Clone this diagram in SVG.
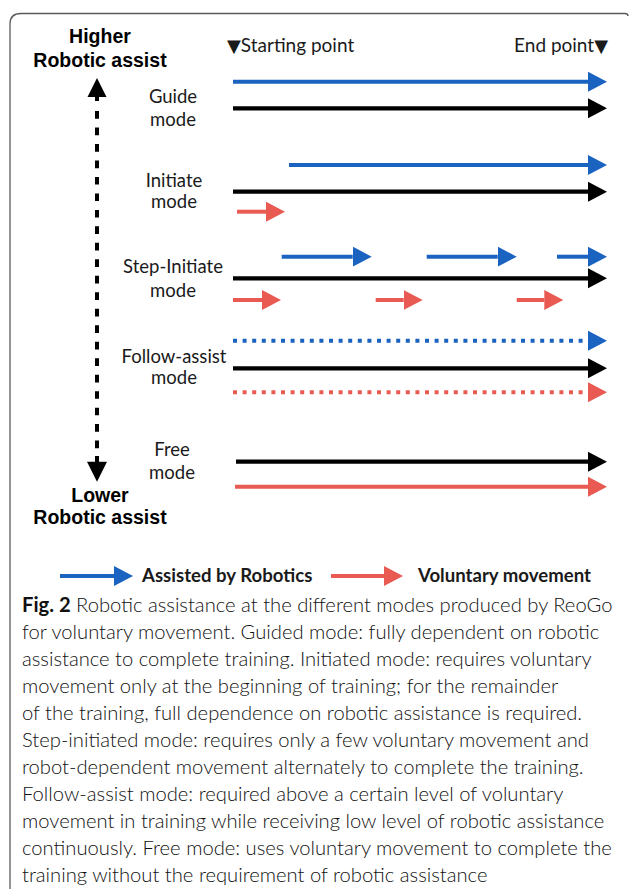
<svg xmlns="http://www.w3.org/2000/svg" width="629" height="891" viewBox="0 0 629 891">
  <style>
    .axis { font-family: "Liberation Sans", Arial, sans-serif; font-weight: bold; font-size: 19.5px; fill: #000; text-anchor: middle; }
    .mode { font-family: Lato, "Open Sans", sans-serif; font-size: 18.5px; fill: #1a1a1a; text-anchor: middle; }
    .head { font-family: Lato, "Open Sans", sans-serif; font-size: 19px; fill: #1a1a1a; }
    .tri { font-family: "DejaVu Sans", sans-serif; font-size: 18px; }
    .legend { font-family: Lato, "Open Sans", sans-serif; font-size: 18.6px; font-weight: bold; fill: #1a1a1a; }
    .cap { font-family: Lato, "Open Sans", sans-serif; font-weight: 300; font-size: 20.2px; fill: #111; }
    .cap .b { font-weight: bold; }
    .blue { stroke: #1b63c1; stroke-width: 4; fill: none; }
    .black { stroke: #000; stroke-width: 4.2; fill: none; }
    .red { stroke: #e95a52; stroke-width: 4; fill: none; }
    .dot { stroke-dasharray: 4 5.6; }
  </style>
  <defs>
    <marker id="hBlue" markerUnits="userSpaceOnUse" viewBox="0 -11 20 22" markerWidth="20" markerHeight="22" refX="0" refY="0" orient="auto">
      <path d="M0,-10 L19,0 L0,10 z" fill="#1b63c1"/>
    </marker>
    <marker id="hBlack" markerUnits="userSpaceOnUse" viewBox="0 -11 20 22" markerWidth="20" markerHeight="22" refX="0" refY="0" orient="auto">
      <path d="M0,-10 L19,0 L0,10 z" fill="#000"/>
    </marker>
    <marker id="hRed" markerUnits="userSpaceOnUse" viewBox="0 -11 20 22" markerWidth="20" markerHeight="22" refX="0" refY="0" orient="auto">
      <path d="M0,-10 L19,0 L0,10 z" fill="#e95a52"/>
    </marker>
  </defs>

  <rect width="629" height="891" fill="#fff"/>

  <!-- open frame: top and left edges -->
  <path d="M10,889 L10,24 Q10,13.5 21,13.5 L625,13.5 Q628,13.5 628,16" fill="none" stroke="#5a5a5a" stroke-width="1.3"/>

  <!-- assist scale labels -->
  <g id="scale-high">
    <text class="axis" x="100" y="42.5">Higher</text>
    <text class="axis" x="100" y="66.5">Robotic assist</text>
  </g>
  <g id="scale-low">
    <text class="axis" x="100" y="501.5">Lower</text>
    <text class="axis" x="100" y="523.5">Robotic assist</text>
  </g>

  <!-- start / end markers -->
  <g id="start-point">
    <text class="head" x="227" y="51.7"><tspan class="tri">▼</tspan>Starting point</text>
  </g>
  <g id="end-point">
    <text class="head" x="608" y="51.7" text-anchor="end">End point<tspan class="tri">▼</tspan></text>
  </g>

  <!-- mode labels -->
  <g id="guide-mode">
    <text class="mode" x="173" y="103.3">Guide</text>
    <text class="mode" x="173" y="126">mode</text>
  </g>
  <g id="initiate-mode">
    <text class="mode" x="174" y="186.7">Initiate</text>
    <text class="mode" x="174" y="208.3">mode</text>
  </g>
  <g id="step-initiate-mode">
    <text class="mode" x="173" y="273.3">Step-Initiate</text>
    <text class="mode" x="173" y="296.5">mode</text>
  </g>
  <g id="follow-assist-mode">
    <text class="mode" x="174" y="362.7">Follow-assist</text>
    <text class="mode" x="174" y="384.3">mode</text>
  </g>
  <g id="free-mode">
    <text class="mode" x="172" y="456">Free</text>
    <text class="mode" x="172" y="479">mode</text>
  </g>

  <g id="connectors">
    <!-- vertical assist scale -->
    <line x1="97" y1="111" x2="97" y2="449" stroke="#000" stroke-width="4" stroke-dasharray="7.7 8.78"/>
    <rect x="95" y="95" width="4" height="6" fill="#000"/>
    <polygon points="97,78 106.5,97 87.5,97" fill="#000"/>
    <rect x="95" y="456" width="4" height="6" fill="#000"/>
    <polygon points="87,461.7 107,461.7 97,481.7" fill="#000"/>

    <!-- guide -->
    <line class="blue" x1="233" y1="81.7" x2="588" y2="81.7" marker-end="url(#hBlue)"/>
    <line class="black" x1="233" y1="108.3" x2="588" y2="108.3" marker-end="url(#hBlack)"/>

    <!-- initiate -->
    <line class="blue" x1="289" y1="165" x2="588" y2="165" marker-end="url(#hBlue)"/>
    <line class="black" x1="233" y1="191.7" x2="588" y2="191.7" marker-end="url(#hBlack)"/>
    <line class="red" x1="237" y1="211.7" x2="266" y2="211.7" marker-end="url(#hRed)"/>

    <!-- step-initiate -->
    <line class="blue" x1="281.7" y1="256.7" x2="352.7" y2="256.7" marker-end="url(#hBlue)"/>
    <line class="blue" x1="426.7" y1="256.7" x2="497.7" y2="256.7" marker-end="url(#hBlue)"/>
    <line class="blue" x1="557" y1="256.7" x2="588" y2="256.7" marker-end="url(#hBlue)"/>
    <line class="black" x1="233" y1="278.3" x2="588" y2="278.3" marker-end="url(#hBlack)"/>
    <line class="red" x1="233" y1="300" x2="262" y2="300" marker-end="url(#hRed)"/>
    <line class="red" x1="375.7" y1="300" x2="403.7" y2="300" marker-end="url(#hRed)"/>
    <line class="red" x1="516.7" y1="300" x2="544.3" y2="300" marker-end="url(#hRed)"/>

    <!-- follow-assist -->
    <line class="blue dot" x1="233" y1="340.7" x2="588" y2="340.7" marker-end="url(#hBlue)"/>
    <line class="black" x1="233" y1="368.3" x2="588" y2="368.3" marker-end="url(#hBlack)"/>
    <line class="red dot" x1="233" y1="392.3" x2="588" y2="392.3" marker-end="url(#hRed)"/>

    <!-- free -->
    <line class="black" x1="236" y1="461.7" x2="588" y2="461.7" marker-end="url(#hBlack)"/>
    <line class="red" x1="235" y1="486.7" x2="588" y2="486.7" marker-end="url(#hRed)"/>

    <!-- legend arrows -->
    <line class="blue" x1="60" y1="576" x2="114" y2="576" marker-end="url(#hBlue)"/>
    <line class="red" x1="331" y1="576" x2="384" y2="576" marker-end="url(#hRed)"/>
  </g>

  <g id="legend">
    <text class="legend" x="142" y="582">Assisted by Robotics</text>
    <text class="legend" x="418" y="582">Voluntary movement</text>
  </g>

  <g id="caption">
    <text class="cap" x="22" y="612"><tspan class="b">Fig. 2</tspan>  Robotic assistance at the different modes produced by ReoGo</text>
    <text class="cap" x="22" y="639">for voluntary movement. Guided mode: fully dependent on robotic</text>
    <text class="cap" x="22" y="666">assistance to complete training. Initiated mode: requires voluntary</text>
    <text class="cap" x="22" y="693">movement only at the beginning of training; for the remainder</text>
    <text class="cap" x="22" y="720">of the training, full dependence on robotic assistance is required.</text>
    <text class="cap" x="22" y="747">Step-initiated mode: requires only a few voluntary movement and</text>
    <text class="cap" x="22" y="774">robot-dependent movement alternately to complete the training.</text>
    <text class="cap" x="22" y="801">Follow-assist mode: required above a certain level of voluntary</text>
    <text class="cap" x="22" y="828">movement in training while receiving low level of robotic assistance</text>
    <text class="cap" x="22" y="855">continuously. Free mode: uses voluntary movement to complete the</text>
    <text class="cap" x="22" y="882">training without the requirement of robotic assistance</text>
  </g>
</svg>
